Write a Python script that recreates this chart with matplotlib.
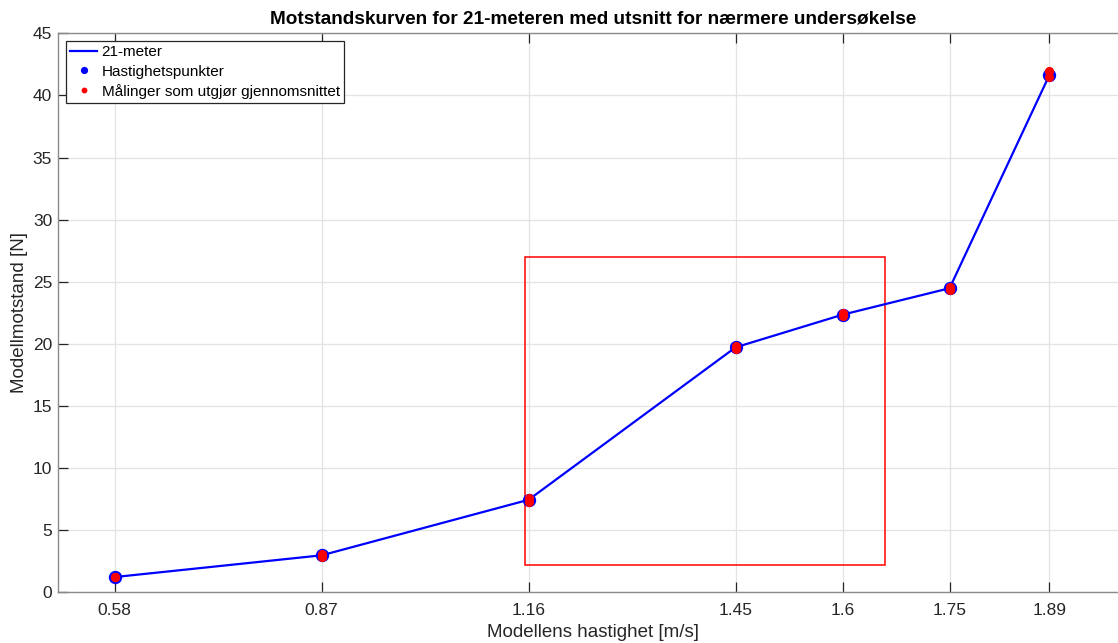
import numpy as np
import matplotlib
matplotlib.use('Agg')
import matplotlib.pyplot as plt
from matplotlib.patches import Rectangle

plt.rcParams['font.family'] = ['Liberation Sans', 'DejaVu Sans']

# hastighetspunkter (gjennomsnitt)
speeds = [0.58, 0.87, 1.16, 1.45, 1.6, 1.75, 1.89]
resistance = [1.23, 2.98, 7.45, 19.72, 22.35, 24.48, 41.65]

# enkeltmalinger
meas_speed = [0.58, 0.58, 0.87, 0.87, 1.16, 1.16, 1.45, 1.45, 1.6, 1.6, 1.75, 1.75, 1.89, 1.89]
meas_res = [1.2, 1.26, 2.88, 3.08, 7.3, 7.62, 19.6, 19.85, 22.25, 22.45, 24.35, 24.6, 41.45, 41.95]

# utsnitt
zoom_x = [1.155, 1.66]
zoom_y = [2.2, 27.0]

y_ticks = list(range(0, 50, 5))
dark = '#262626'

fig = plt.figure(figsize=(11.18, 6.43), dpi=100)
ax = fig.add_axes([0.0516, 0.0788, 0.9573, 0.8694])

ax.plot(speeds, resistance, color='blue', lw=1.6, label='21-meter', zorder=3)
ax.plot(speeds, resistance, ls='none', marker='o', ms=8.6, color='blue',
        label='Hastighetspunkter', zorder=4)
ax.plot(meas_speed, meas_res, ls='none', marker='o', ms=6.6, color='red',
        mec='none', label='Målinger som utgjør gjennomsnittet', zorder=5)

ax.add_patch(Rectangle((zoom_x[0], zoom_y[0]), zoom_x[1] - zoom_x[0], zoom_y[1] - zoom_y[0],
                       fill=False, edgecolor='red', lw=1.1, zorder=2))

ax.set_xlim(0.5, 2.0)
ax.set_ylim(0, 45)
ax.set_xticks(speeds)
ax.set_xticklabels([str(s) for s in speeds])
ax.set_yticks(y_ticks)
ax.grid(True, color='#e3e3e3', lw=0.9)
ax.set_axisbelow(True)
ax.tick_params(direction='in', length=7.5, width=0.9, colors=dark, labelsize=12.5,
               top=True, right=True)
ax.tick_params(axis='x', pad=8)
ax.tick_params(axis='y', pad=4)
for sp in ax.spines.values():
    sp.set_color('#8a8a8a')
    sp.set_linewidth(1.0)

ax.set_title('Motstandskurven for 21-meteren med utsnitt for nærmere undersøkelse',
             fontsize=13.7, fontweight='bold', color='black', pad=7)
ax.set_xlabel('Modellens hastighet [m/s]', fontsize=13.5, color=dark, labelpad=4)
ax.set_ylabel('Modellmotstand [N]', fontsize=13.5, color=dark, labelpad=3)

leg = ax.legend(loc='upper left', bbox_to_anchor=(0.0075, 0.987), fontsize=11.0,
                handlelength=1.75, handletextpad=0.3,
                borderpad=0.3, labelspacing=0.35, fancybox=False, framealpha=1,
                edgecolor=dark, borderaxespad=0)
leg.get_frame().set_linewidth(0.9)
for h in leg.legend_handles[1:]:
    h.set_markersize(4.2)
for t in leg.get_texts():
    t.set_color('black')

fig.savefig('out.png', dpi=100)
